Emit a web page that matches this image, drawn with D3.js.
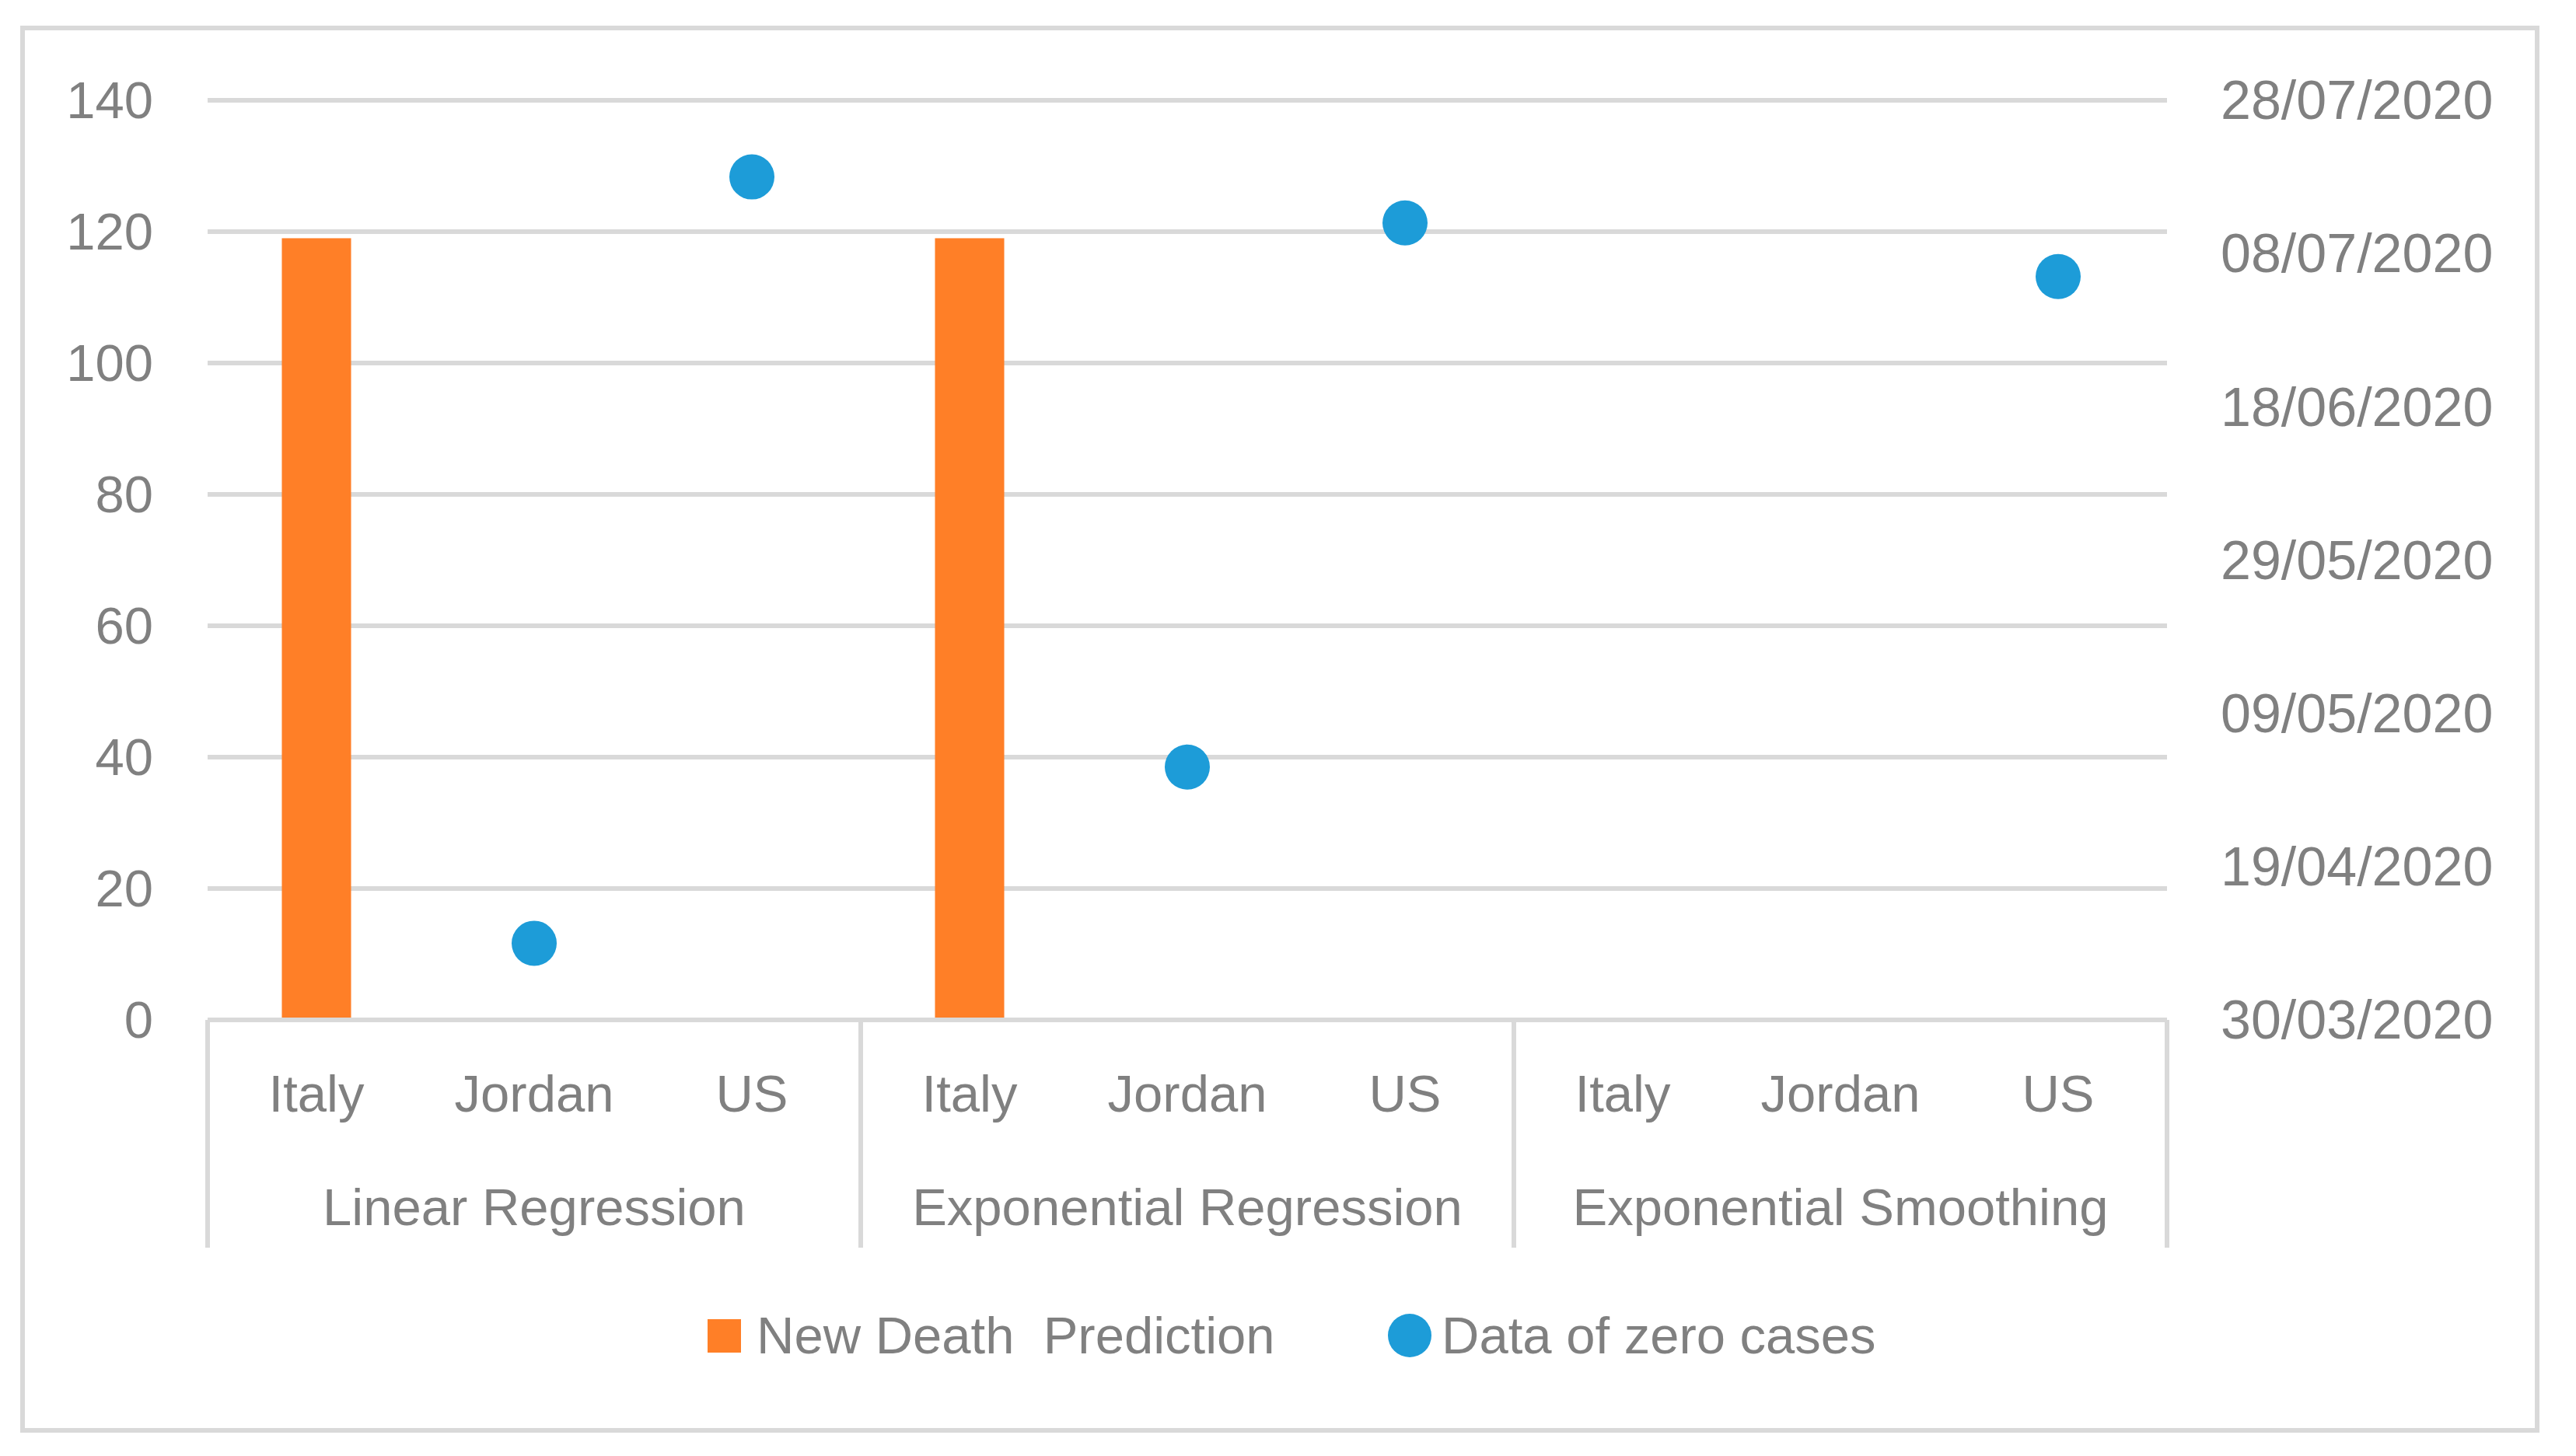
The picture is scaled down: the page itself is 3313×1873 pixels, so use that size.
<!DOCTYPE html>
<html>
<head>
<meta charset="utf-8">
<script src="https://cdn.jsdelivr.net/npm/d3@7"></script>
<style>
  body { margin: 0; background: #fff; }
  text { font-family: "Liberation Sans", Arial, sans-serif; fill: #808080; }
</style>
</head>
<body>
<div id="chart"></div>
<script>
// data
var groups = ["Linear Regression", "Exponential Regression", "Exponential Smoothing"];
var countries = ["Italy", "Jordan", "US"];
// New Death Prediction (left axis), one value per group x country, null = no bar
var deathPrediction = [
  [119, null, null],
  [119, null, null],
  [null, null, null]
];
// Data of zero cases (right axis, dates), null = no point
var zeroCaseDates = [
  [null, "09/04/2020", "18/07/2020"],
  [null, "02/05/2020", "12/07/2020"],
  [null, null, "05/07/2020"]
];
var leftTicks = [0, 20, 40, 60, 80, 100, 120, 140];
var rightTicks = ["30/03/2020", "19/04/2020", "09/05/2020", "29/05/2020", "18/06/2020", "08/07/2020", "28/07/2020"];
var seriesNames = ["New Death  Prediction", "Data of zero cases"];

var W = 3313, H = 1873;
var plotLeft = 267, plotRight = 2787, plotTop = 129, plotBottom = 1312;
var fontSize = 67;
var grid = "#d9d9d9";
var orange = "#ff7f27", blue = "#1d9cd8";

var parse = d3.timeParse("%d/%m/%Y");
var fmt = d3.timeFormat("%d/%m/%Y");

var svg = d3.select("#chart").append("svg")
  .attr("width", W)
  .attr("height", H);

svg.append("rect").attr("width", W).attr("height", H).attr("fill", "#fff");

// outer chart border
svg.append("rect")
  .attr("x", 29).attr("y", 36)
  .attr("width", 3263 - 29).attr("height", 1840 - 36)
  .attr("fill", "none")
  .attr("stroke", grid)
  .attr("stroke-width", 6);

// scales
var y = d3.scaleLinear().domain([0, 140]).range([plotBottom, plotTop]);
var y2 = d3.scaleTime()
  .domain([parse(rightTicks[0]), parse(rightTicks[rightTicks.length - 1])])
  .range([plotBottom, plotTop]);
var x0 = d3.scaleBand().domain(groups).range([plotLeft, plotRight]);
var x1 = d3.scaleBand().domain(countries).range([0, x0.bandwidth()]);
var barW = x1.bandwidth() * 0.318;

// gridlines
svg.selectAll(".grid")
  .data(leftTicks.filter(function(d) { return d > 0; }))
  .enter()
  .append("line")
    .attr("x1", plotLeft).attr("x2", plotRight)
    .attr("y1", function(d) { return y(d); })
    .attr("y2", function(d) { return y(d); })
    .attr("stroke", grid)
    .attr("stroke-width", 6);

// left axis labels
var gl = svg.append("g")
  .attr("transform", "translate(" + (plotLeft - 70) + ",0)")
  .call(d3.axisLeft(y).tickValues(leftTicks).tickSize(0).tickPadding(0));
gl.select(".domain").remove();
gl.selectAll("text")
  .attr("font-size", fontSize)
  .attr("font-family", null)
  .attr("fill", null)
  .attr("dy", "0.34em");

// right axis labels
var gr = svg.append("g")
  .attr("transform", "translate(" + 2856 + ",0)")
  .call(d3.axisRight(y2).tickValues(rightTicks.map(parse)).tickFormat(fmt).tickSize(0).tickPadding(0));
gr.select(".domain").remove();
gr.selectAll("text")
  .attr("font-size", 70)
  .attr("font-family", null)
  .attr("fill", null)
  .attr("dy", "0.34em");

// bars
var barData = [];
groups.forEach(function(g, i) {
  countries.forEach(function(c, j) {
    if (deathPrediction[i][j] != null) barData.push({group: g, country: c, value: deathPrediction[i][j]});
  });
});
svg.selectAll(".bar")
  .data(barData)
  .enter()
  .append("rect")
    .attr("x", function(d) { return x0(d.group) + x1(d.country) + x1.bandwidth() / 2 - barW / 2; })
    .attr("y", function(d) { return y(d.value); })
    .attr("width", barW)
    .attr("height", function(d) { return y(0) - y(d.value); })
    .attr("fill", orange);

// horizontal category axis with group separators
svg.append("line")
  .attr("x1", plotLeft).attr("x2", plotRight)
  .attr("y1", y(0)).attr("y2", y(0))
  .attr("stroke", grid).attr("stroke-width", 6);

var seps = groups.map(function(g) { return x0(g); }).concat([plotRight]);
svg.selectAll(".sep")
  .data(seps)
  .enter()
  .append("line")
    .attr("x1", function(d) { return d; })
    .attr("x2", function(d) { return d; })
    .attr("y1", y(0)).attr("y2", 1605)
    .attr("stroke", grid).attr("stroke-width", 6);

// category labels
groups.forEach(function(g) {
  svg.selectAll(null)
    .data(countries)
    .enter()
    .append("text")
      .attr("x", function(c) { return x0(g) + x1(c) + x1.bandwidth() / 2; })
      .attr("y", 1430)
      .attr("text-anchor", "middle")
      .attr("font-size", fontSize)
      .text(function(c) { return c; });
});
svg.selectAll(".glabel")
  .data(groups)
  .enter()
  .append("text")
    .attr("x", function(g) { return x0(g) + x0.bandwidth() / 2; })
    .attr("y", 1576)
    .attr("text-anchor", "middle")
    .attr("font-size", fontSize)
    .text(function(g) { return g; });

// points
var dotData = [];
groups.forEach(function(g, i) {
  countries.forEach(function(c, j) {
    if (zeroCaseDates[i][j] != null) dotData.push({group: g, country: c, date: parse(zeroCaseDates[i][j])});
  });
});
svg.selectAll(".dot")
  .data(dotData)
  .enter()
  .append("circle")
    .attr("cx", function(d) { return x0(d.group) + x1(d.country) + x1.bandwidth() / 2; })
    .attr("cy", function(d) { return y2(d.date); })
    .attr("r", 29)
    .attr("fill", blue);

// legend
var lg = svg.append("g");
lg.append("rect")
  .attr("x", 910).attr("y", 1697)
  .attr("width", 43).attr("height", 43)
  .attr("fill", orange);
lg.append("text")
  .attr("x", 973).attr("y", 1718)
  .attr("dy", "0.34em")
  .attr("font-size", fontSize)
  .attr("xml:space", "preserve")
  .style("white-space", "pre")
  .text(seriesNames[0]);
lg.append("circle")
  .attr("cx", 1813).attr("cy", 1718)
  .attr("r", 28)
  .attr("fill", blue);
lg.append("text")
  .attr("x", 1854).attr("y", 1718)
  .attr("dy", "0.34em")
  .attr("font-size", fontSize)
  .text(seriesNames[1]);
</script>
</body>
</html>
